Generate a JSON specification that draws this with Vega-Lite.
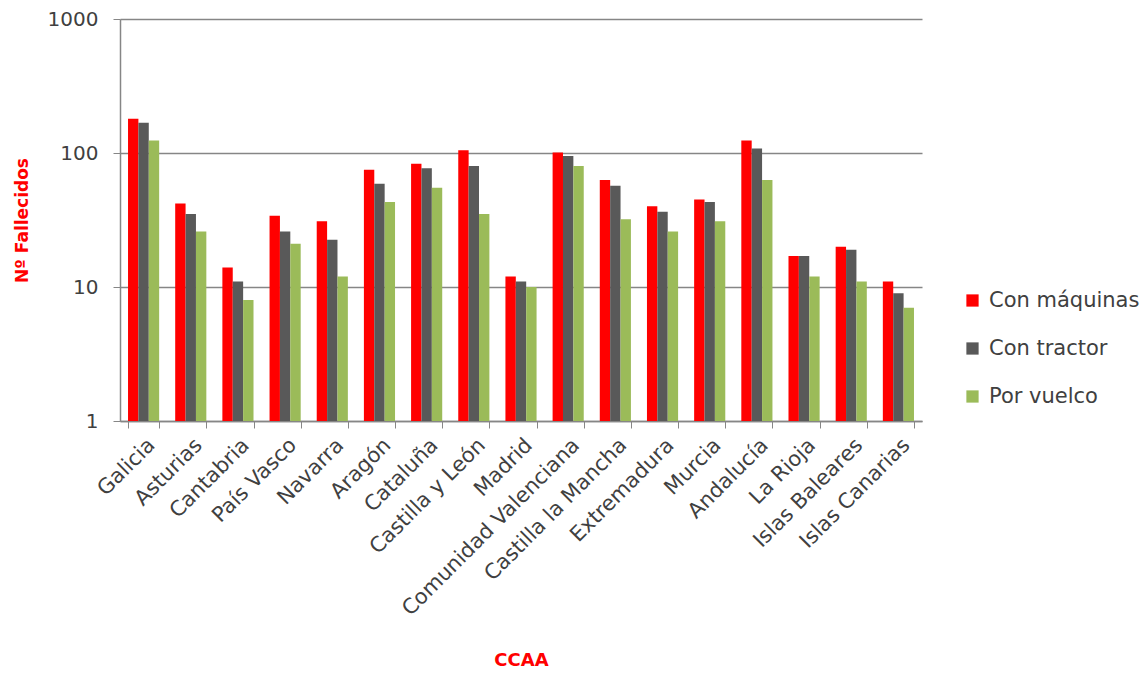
{
  "$schema": "https://vega.github.io/schema/vega-lite/v6.json",
  "width": 802,
  "height": 402,
  "autosize": "none",
  "padding": {"left": 120, "top": 19, "right": 225, "bottom": 252},
  "background": "white",
  "data": {
    "values": [
      {"ccaa": "Galicia", "tipo": "Con máquinas", "v": 180},
      {"ccaa": "Galicia", "tipo": "Con tractor", "v": 168},
      {"ccaa": "Galicia", "tipo": "Por vuelco", "v": 124},
      {"ccaa": "Asturias", "tipo": "Con máquinas", "v": 42},
      {"ccaa": "Asturias", "tipo": "Con tractor", "v": 35},
      {"ccaa": "Asturias", "tipo": "Por vuelco", "v": 26},
      {"ccaa": "Cantabria", "tipo": "Con máquinas", "v": 14},
      {"ccaa": "Cantabria", "tipo": "Con tractor", "v": 11},
      {"ccaa": "Cantabria", "tipo": "Por vuelco", "v": 8},
      {"ccaa": "País Vasco", "tipo": "Con máquinas", "v": 34},
      {"ccaa": "País Vasco", "tipo": "Con tractor", "v": 26},
      {"ccaa": "País Vasco", "tipo": "Por vuelco", "v": 21},
      {"ccaa": "Navarra", "tipo": "Con máquinas", "v": 31},
      {"ccaa": "Navarra", "tipo": "Con tractor", "v": 22.5},
      {"ccaa": "Navarra", "tipo": "Por vuelco", "v": 12},
      {"ccaa": "Aragón", "tipo": "Con máquinas", "v": 75},
      {"ccaa": "Aragón", "tipo": "Con tractor", "v": 59},
      {"ccaa": "Aragón", "tipo": "Por vuelco", "v": 43},
      {"ccaa": "Cataluña", "tipo": "Con máquinas", "v": 83},
      {"ccaa": "Cataluña", "tipo": "Con tractor", "v": 77},
      {"ccaa": "Cataluña", "tipo": "Por vuelco", "v": 55},
      {"ccaa": "Castilla y León", "tipo": "Con máquinas", "v": 105},
      {"ccaa": "Castilla y León", "tipo": "Con tractor", "v": 80},
      {"ccaa": "Castilla y León", "tipo": "Por vuelco", "v": 35},
      {"ccaa": "Madrid", "tipo": "Con máquinas", "v": 12},
      {"ccaa": "Madrid", "tipo": "Con tractor", "v": 11},
      {"ccaa": "Madrid", "tipo": "Por vuelco", "v": 10},
      {"ccaa": "Comunidad Valenciana", "tipo": "Con máquinas", "v": 101},
      {"ccaa": "Comunidad Valenciana", "tipo": "Con tractor", "v": 95},
      {"ccaa": "Comunidad Valenciana", "tipo": "Por vuelco", "v": 80},
      {"ccaa": "Castilla la Mancha", "tipo": "Con máquinas", "v": 63},
      {"ccaa": "Castilla la Mancha", "tipo": "Con tractor", "v": 57},
      {"ccaa": "Castilla la Mancha", "tipo": "Por vuelco", "v": 32},
      {"ccaa": "Extremadura", "tipo": "Con máquinas", "v": 40},
      {"ccaa": "Extremadura", "tipo": "Con tractor", "v": 36.5},
      {"ccaa": "Extremadura", "tipo": "Por vuelco", "v": 26},
      {"ccaa": "Murcia", "tipo": "Con máquinas", "v": 45},
      {"ccaa": "Murcia", "tipo": "Con tractor", "v": 43},
      {"ccaa": "Murcia", "tipo": "Por vuelco", "v": 31},
      {"ccaa": "Andalucía", "tipo": "Con máquinas", "v": 124},
      {"ccaa": "Andalucía", "tipo": "Con tractor", "v": 108},
      {"ccaa": "Andalucía", "tipo": "Por vuelco", "v": 63},
      {"ccaa": "La Rioja", "tipo": "Con máquinas", "v": 17},
      {"ccaa": "La Rioja", "tipo": "Con tractor", "v": 17},
      {"ccaa": "La Rioja", "tipo": "Por vuelco", "v": 12},
      {"ccaa": "Islas Baleares", "tipo": "Con máquinas", "v": 20},
      {"ccaa": "Islas Baleares", "tipo": "Con tractor", "v": 19},
      {"ccaa": "Islas Baleares", "tipo": "Por vuelco", "v": 11},
      {"ccaa": "Islas Canarias", "tipo": "Con máquinas", "v": 11},
      {"ccaa": "Islas Canarias", "tipo": "Con tractor", "v": 9},
      {"ccaa": "Islas Canarias", "tipo": "Por vuelco", "v": 7}
    ]
  },
  "mark": {"type": "bar"},
  "encoding": {
    "x": {
      "field": "ccaa",
      "type": "nominal",
      "sort": null,
      "scale": {"paddingInner": 0.34, "paddingOuter": 0.17},
      "axis": {
        "title": "CCAA",
        "titleColor": "#FF0000",
        "titleFont": "DejaVu Sans",
        "titleFontSize": 18,
        "titleFontWeight": "bold",
        "titleY": 230,
        "labelAngle": -45,
        "labelFont": "DejaVu Sans",
        "labelFontSize": 21,
        "labelLimit": 0,
        "labelColor": "#404040",
        "labelPadding": 6,
        "tickBand": "extent",
        "tickColor": "#868686",
        "tickSize": 7,
        "domainColor": "#868686",
        "domainWidth": 1.5,
        "grid": false
      }
    },
    "y": {
      "field": "v",
      "type": "quantitative",
      "stack": null,
      "scale": {"type": "log", "domain": [1, 1000], "nice": false},
      "axis": {
        "title": "Nº Fallecidos",
        "titleColor": "#FF0000",
        "titleFont": "DejaVu Sans",
        "titleFontSize": 17,
        "titleFontWeight": "bold",
        "titleX": -89,
        "values": [1, 10, 100, 1000],
        "format": "d",
        "labelFont": "DejaVu Sans",
        "labelFontSize": 20,
        "labelColor": "#404040",
        "labelPadding": 15,
        "tickColor": "#868686",
        "tickSize": 7,
        "domainColor": "#868686",
        "domainWidth": 1.5,
        "grid": true,
        "gridColor": "#868686",
        "gridWidth": 1.5
      }
    },
    "y2": {"datum": 1},
    "xOffset": {
      "field": "tipo",
      "type": "nominal",
      "sort": ["Con máquinas", "Con tractor", "Por vuelco"]
    },
    "color": {
      "field": "tipo",
      "type": "nominal",
      "sort": ["Con máquinas", "Con tractor", "Por vuelco"],
      "scale": {
        "domain": ["Con máquinas", "Con tractor", "Por vuelco"],
        "range": ["#FF0000", "#595959", "#9BBB59"]
      },
      "legend": {
        "title": null,
        "orient": "none",
        "legendX": 842,
        "legendY": 271,
        "symbolType": "square",
        "symbolSize": 150,
        "symbolStrokeWidth": 0,
        "labelFont": "DejaVu Sans",
        "labelFontSize": 21,
        "labelColor": "#404040",
        "labelOffset": 6,
        "rowPadding": 26
      }
    }
  },
  "config": {
    "view": {"stroke": null}
  }
}
